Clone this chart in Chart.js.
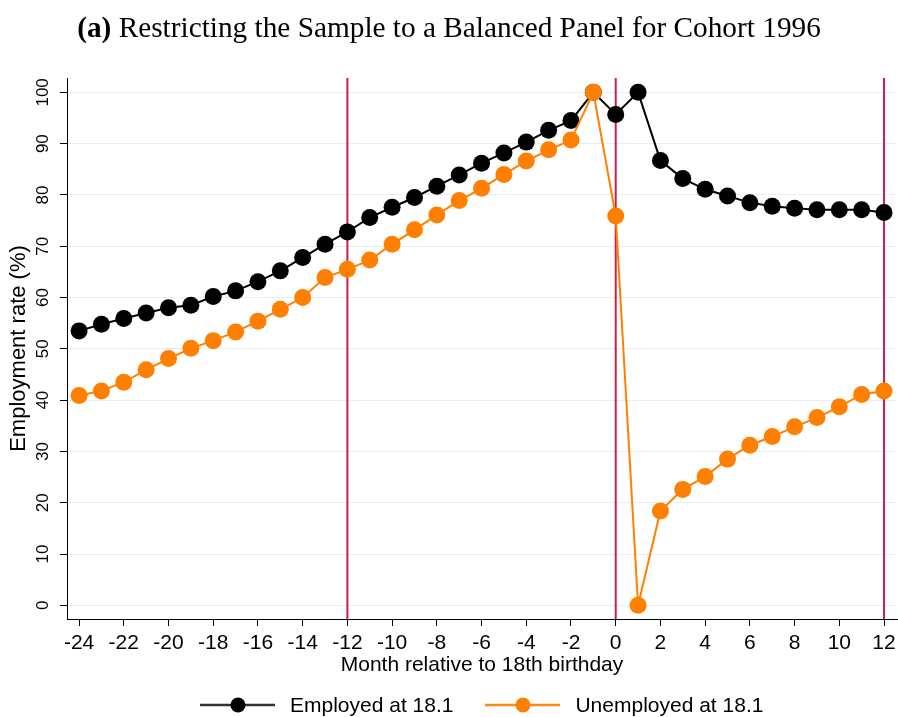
<!DOCTYPE html>
<html>
<head>
<meta charset="utf-8">
<script src="https://cdn.jsdelivr.net/npm/chart.js@4.4.0/dist/chart.umd.min.js"></script>
<style>
  html, body { margin: 0; padding: 0; background: #fff; }
  #wrap { position: relative; width: 898px; height: 717px; overflow: hidden; }
  #chart { position: absolute; top: 0; left: 0; }
  #title { position: absolute; top: 11px; left: 0; width: 898px; text-align: center;
           font-family: 'Liberation Serif', serif; font-size: 29.3px; color: #000; }
  #legend { position: absolute; top: 692px; left: 200px; height: 26px; display: flex; align-items: center;
            font-family: 'Liberation Sans', Arial, sans-serif; font-size: 21px; color: #000; }
  #legend .item { display: flex; align-items: center; }
  #legend .item + .item { margin-left: 32px; }
  #legend svg { margin-right: 15px; }
</style>
</head>
<body>
<div id="wrap">
  <canvas id="chart" width="898" height="717"></canvas>
  <div id="title"><b>(a)</b> Restricting the Sample to a Balanced Panel for Cohort 1996</div>
  <div id="legend"></div>
</div>
<script>
  const months = [-24, -23, -22, -21, -20, -19, -18, -17, -16, -15, -14, -13, -12, -11, -10, -9, -8, -7, -6, -5, -4, -3, -2, -1,
                  0, 1, 2, 3, 4, 5, 6, 7, 8, 9, 10, 11, 12];
  const employed = [53.5, 54.8, 55.9, 57.0, 58.0, 58.5, 60.2, 61.3, 63.1, 65.2, 67.8, 70.4, 72.8, 75.6, 77.6, 79.5, 81.7, 83.9,
                    86.2, 88.2, 90.3, 92.6, 94.5, 100, 95.7, 100, 86.7, 83.2, 81.1, 79.8, 78.5, 77.8, 77.4, 77.1, 77.1, 77.1, 76.6];
  const unemployed = [40.9, 41.8, 43.5, 45.9, 48.1, 50.1, 51.6, 53.3, 55.4, 57.7, 60.0, 63.9, 65.5, 67.3, 70.4, 73.2, 76.1, 78.9,
                      81.3, 84.0, 86.6, 88.8, 90.7, 100, 75.9, 0, 18.4, 22.6, 25.1, 28.5, 31.2, 32.9, 34.8, 36.6, 38.7, 41.1, 41.8];
  const xTicks = [-24, -22, -20, -18, -16, -14, -12, -10, -8, -6, -4, -2, 0, 2, 4, 6, 8, 10, 12];
  const yTicks = [0, 10, 20, 30, 40, 50, 60, 70, 80, 90, 100];
  const refLines = [-12, 0, 12];
  const seriesNames = ['Employed at 18.1', 'Unemployed at 18.1'];
  const seriesColors = ['#000000', '#ff8000'];
  const legendLineColors = ['#333333', '#ff8a1a'];

  const sans = "'Liberation Sans', Arial, sans-serif";
  const bigFont = { family: sans, size: 21 };
  const yTitleFont = { family: sans, size: 22 };
  const yTickFont = { family: sans, size: 17 };

  const refLinePlugin = {
    id: 'refLines',
    beforeDatasetsDraw(chart) {
      const { ctx, chartArea, scales } = chart;
      ctx.save();
      ctx.strokeStyle = '#c8204f';
      ctx.lineWidth = 2;
      refLines.forEach(v => {
        const px = scales.x.getPixelForValue(v);
        ctx.beginPath();
        ctx.moveTo(px, chartArea.top);
        ctx.lineTo(px, chartArea.bottom);
        ctx.stroke();
      });
      ctx.restore();
    }
  };

  function series(values) {
    return months.map((m, i) => ({ x: m, y: values[i] }));
  }

  function dataset(i, values) {
    return {
      label: seriesNames[i],
      data: series(values),
      borderColor: seriesColors[i],
      backgroundColor: seriesColors[i],
      pointBackgroundColor: seriesColors[i],
      pointBorderColor: seriesColors[i],
      borderWidth: 2,
      pointRadius: 8.5,
      pointBorderWidth: 0,
      tension: 0,
      clip: false,
      order: 1 - i
    };
  }

  new Chart(document.getElementById('chart').getContext('2d'), {
    type: 'line',
    data: { datasets: [dataset(0, employed), dataset(1, unemployed)] },
    options: {
      responsive: false,
      animation: false,
      devicePixelRatio: 1,
      layout: { autoPadding: false, padding: { top: 78, right: 1, bottom: 39, left: 0 } },
      plugins: { legend: { display: false }, tooltip: { enabled: false }, title: { display: false } },
      scales: {
        x: {
          type: 'linear',
          min: -24.54,
          max: 12.58,
          afterBuildTicks: s => { s.ticks = xTicks.map(v => ({ value: v })); },
          afterFit: s => { s.height = 59; s.paddingLeft = 0; s.paddingRight = 0; },
          ticks: { font: bigFont, color: '#000', padding: 5, maxRotation: 0, autoSkip: false, callback: v => String(v) },
          grid: { drawOnChartArea: false, tickLength: 7, tickColor: '#000', tickWidth: 1 },
          border: { display: true, color: '#000', width: 1 },
          title: { display: true, text: 'Month relative to 18th birthday', font: bigFont, color: '#000', padding: { top: 0, bottom: 0 } }
        },
        y: {
          type: 'linear',
          min: -2.67,
          max: 102.8,
          afterBuildTicks: s => { s.ticks = yTicks.map(v => ({ value: v })); },
          afterFit: s => { s.width = 67; s.paddingTop = 0; s.paddingBottom = 0; },
          ticks: { font: yTickFont, color: '#000', padding: 3, minRotation: 90, maxRotation: 90, crossAlign: 'center', callback: v => String(v) },
          grid: { color: '#e8eef5', lineWidth: 1, tickLength: 7, tickColor: '#000', tickWidth: 1 },
          border: { display: true, color: '#000', width: 1 },
          title: { display: true, text: 'Employment rate (%)', font: yTitleFont, color: '#000', padding: { top: 6, bottom: 0 } }
        }
      }
    },
    plugins: [refLinePlugin]
  });

  // legend: line with a dot, like the Stata key
  const legend = document.getElementById('legend');
  seriesNames.forEach((name, i) => {
    const item = document.createElement('div');
    item.className = 'item';
    item.innerHTML =
      '<svg width="75" height="18" viewBox="0 0 75 18">' +
      '<line x1="0" y1="9" x2="75" y2="9" stroke="' + legendLineColors[i] + '" stroke-width="2.5"/>' +
      '<circle cx="38" cy="9" r="7.5" fill="' + seriesColors[i] + '"/></svg>' +
      '<span>' + name + '</span>';
    legend.appendChild(item);
  });
</script>
</body>
</html>
